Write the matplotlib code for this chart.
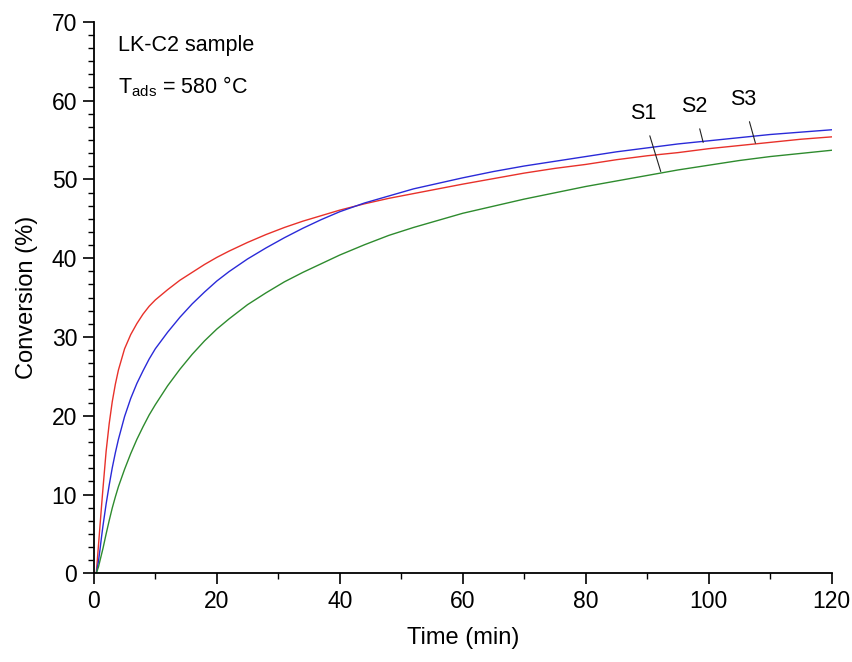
import matplotlib.pyplot as plt
from matplotlib.ticker import MultipleLocator

plt.rcParams['font.family'] = ['Liberation Sans', 'DejaVu Sans']

# time (min)
time = [0.4, 0.75, 1, 1.25, 1.5, 2, 2.5, 3, 3.5, 4, 5, 6, 7, 8, 9, 10, 12, 14,
        16, 18, 20, 22, 25, 28, 31, 34, 37, 40, 44, 48, 52, 56, 60, 65, 70,
        75, 80, 85, 90, 95, 100, 105, 110, 115, 120]

# conversion (%)
s3_red = [0, 3.5, 6.0, 8.5, 10.9, 15.5, 19.0, 21.8, 24.0, 25.8, 28.5, 30.3,
          31.7, 32.9, 33.9, 34.7, 36.0, 37.2, 38.2, 39.2, 40.1, 40.9, 42.0,
          43.0, 43.9, 44.7, 45.4, 46.1, 46.9, 47.6, 48.2, 48.8, 49.4, 50.1,
          50.8, 51.4, 51.9, 52.5, 53.0, 53.4, 53.9, 54.3, 54.7, 55.1, 55.4]
s2_blue = [0, 1.5, 3.0, 4.6, 6.1, 8.8, 11.2, 13.4, 15.3, 17.0, 19.9, 22.2,
           24.1, 25.7, 27.2, 28.5, 30.6, 32.5, 34.2, 35.7, 37.1, 38.3, 39.9,
           41.3, 42.6, 43.8, 44.9, 45.9, 47.0, 47.9, 48.8, 49.5, 50.2, 51.0,
           51.7, 52.3, 52.9, 53.5, 54.0, 54.5, 54.9, 55.3, 55.7, 56.0, 56.3]
s1_green = [0, 0.8, 1.6, 2.4, 3.2, 5.0, 6.7, 8.3, 9.7, 11.0, 13.2, 15.2,
            17.0, 18.6, 20.1, 21.4, 23.8, 25.9, 27.8, 29.5, 31.0, 32.3, 34.1,
            35.6, 37.0, 38.2, 39.3, 40.4, 41.7, 42.9, 43.9, 44.8, 45.7, 46.6,
            47.5, 48.3, 49.1, 49.8, 50.5, 51.2, 51.8, 52.4, 52.9, 53.3, 53.7]

fig = plt.figure(figsize=(8.53, 6.62), dpi=100)
ax = fig.add_axes([0.110, 0.134, 0.865, 0.833])

ax.plot(time, s3_red, color='#e8312a', lw=1.0)
ax.plot(time, s2_blue, color='#2a2ad8', lw=1.0)
ax.plot(time, s1_green, color='#2e8b2e', lw=1.0)

# curve labels with leader lines
leader = dict(arrowstyle='-', lw=0.8, color='#222222', shrinkA=7, shrinkB=0)
ax.annotate('S1', xy=(92.2, 51.0), xytext=(89.3, 58.4), ha='center', va='center',
            fontsize=15.5, arrowprops=leader)
ax.annotate('S2', xy=(99.1, 54.7), xytext=(97.6, 59.3), ha='center', va='center',
            fontsize=15.5, arrowprops=leader)
ax.annotate('S3', xy=(107.6, 54.6), xytext=(105.6, 60.2), ha='center', va='center',
            fontsize=15.5, arrowprops=leader)

ax.text(0.033, 0.958, 'LK-C2 sample', transform=ax.transAxes, fontsize=15.5, va='center')
ax.text(0.033, 0.882, r'T$_{\mathregular{ads}}$ = 580 °C', transform=ax.transAxes,
        fontsize=15.5, va='center')

ax.set_xlim(0, 120)
ax.set_ylim(0, 70)
ax.xaxis.set_major_locator(MultipleLocator(20))
ax.xaxis.set_minor_locator(MultipleLocator(10))
ax.yaxis.set_major_locator(MultipleLocator(10))
ax.yaxis.set_minor_locator(MultipleLocator(10 / 6))
ax.tick_params(which='major', length=8, width=1.2, labelsize=16.5, direction='out', pad=4)
ax.tick_params(which='minor', length=4, width=1.0, direction='out')
ax.spines['top'].set_visible(False)
ax.spines['right'].set_visible(False)
ax.spines['left'].set_linewidth(1.3)
ax.spines['bottom'].set_linewidth(1.3)

ax.set_xlabel('Time (min)', fontsize=17, labelpad=10)
ax.set_ylabel('Conversion (%)', fontsize=17, labelpad=10)

plt.savefig('out.png')
